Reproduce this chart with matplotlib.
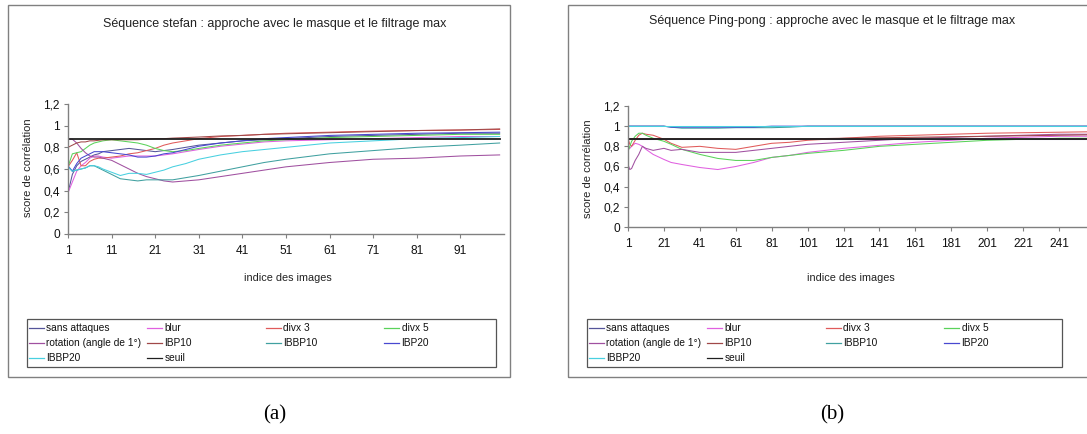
import matplotlib
matplotlib.use("Agg")
import matplotlib.pyplot as plt
from matplotlib.patches import Rectangle
from matplotlib.lines import Line2D

plt.rcParams['font.family'] = ['Liberation Sans', 'DejaVu Sans']

W, H = 1087, 434

names = ["sans attaques", "blur", "divx 3", "divx 5", "rotation (angle de 1°)",
         "IBP10", "IBBP10", "IBP20", "IBBP20", "seuil"]
colors = ["#55559a", "#e060e0", "#e05a5a", "#5ad25a", "#a050a0",
          "#a04848", "#40a0a0", "#4848d0", "#48d0e0", "#202020"]

# Séquence stefan
stefan_x = [1, 2, 3, 4, 5, 6, 7, 8, 9, 11, 13, 15, 17, 19, 21, 23, 25, 28, 31, 36,
            41, 46, 51, 61, 71, 81, 91, 100]
stefan_sans = [0.38, 0.55, 0.63, 0.67, 0.69, 0.71, 0.73, 0.74, 0.76, 0.77, 0.78, 0.79, 0.78, 0.77,
               0.76, 0.77, 0.78, 0.80, 0.82, 0.84, 0.86, 0.87, 0.88, 0.90, 0.91, 0.92, 0.93, 0.93]
stefan_blur = [0.38, 0.48, 0.58, 0.63, 0.66, 0.70, 0.72, 0.72, 0.71, 0.70, 0.71, 0.72, 0.72, 0.72,
               0.72, 0.73, 0.74, 0.76, 0.78, 0.81, 0.83, 0.85, 0.86, 0.87, 0.88, 0.89, 0.90, 0.90]
stefan_divx3 = [0.62, 0.68, 0.75, 0.63, 0.63, 0.67, 0.69, 0.70, 0.70, 0.71, 0.72, 0.74, 0.75, 0.77,
                0.79, 0.82, 0.84, 0.86, 0.88, 0.90, 0.91, 0.92, 0.93, 0.94, 0.95, 0.955, 0.96, 0.965]
stefan_divx5 = [0.62, 0.74, 0.75, 0.76, 0.79, 0.82, 0.84, 0.85, 0.86, 0.87, 0.86, 0.85, 0.84, 0.82,
                0.79, 0.77, 0.76, 0.77, 0.79, 0.82, 0.84, 0.86, 0.87, 0.89, 0.90, 0.91, 0.92, 0.92]
stefan_rot = [0.875, 0.875, 0.84, 0.79, 0.75, 0.72, 0.71, 0.71, 0.70, 0.68, 0.64, 0.60, 0.56, 0.53,
              0.51, 0.49, 0.48, 0.49, 0.50, 0.53, 0.56, 0.59, 0.62, 0.66, 0.69, 0.70, 0.72, 0.73]
stefan_ibp10 = [0.80, 0.82, 0.84, 0.85, 0.85, 0.86, 0.86, 0.865, 0.87, 0.87, 0.87, 0.87, 0.87, 0.875,
                0.88, 0.88, 0.885, 0.89, 0.895, 0.905, 0.91, 0.92, 0.925, 0.935, 0.945, 0.955, 0.96, 0.97]
stefan_ibbp10 = [0.62, 0.58, 0.59, 0.60, 0.61, 0.63, 0.63, 0.61, 0.59, 0.55, 0.51, 0.50, 0.49, 0.50,
                 0.50, 0.50, 0.50, 0.52, 0.54, 0.58, 0.62, 0.66, 0.69, 0.74, 0.77, 0.80, 0.82, 0.84]
stefan_ibp20 = [0.63, 0.58, 0.65, 0.70, 0.72, 0.74, 0.76, 0.76, 0.76, 0.75, 0.74, 0.73, 0.71, 0.71,
                0.72, 0.74, 0.75, 0.78, 0.81, 0.84, 0.86, 0.88, 0.89, 0.91, 0.92, 0.93, 0.935, 0.94]
stefan_ibbp20 = [0.62, 0.58, 0.59, 0.60, 0.61, 0.63, 0.63, 0.62, 0.60, 0.57, 0.54, 0.56, 0.56, 0.55,
                 0.57, 0.59, 0.62, 0.65, 0.69, 0.73, 0.76, 0.78, 0.80, 0.84, 0.86, 0.88, 0.89, 0.90]
stefan_seuil = [0.875] * len(stefan_x)

# Séquence Ping-pong
pp_x = [1, 2, 3, 5, 7, 9, 11, 15, 21, 25, 31, 41, 51, 61, 71, 81, 91, 101, 121, 141,
        161, 181, 201, 221, 241, 261, 281, 300]
pp_sans = [0.875] * len(pp_x)
pp_blur = [0.77, 0.78, 0.80, 0.83, 0.82, 0.80, 0.77, 0.72, 0.67, 0.64, 0.62, 0.59, 0.57, 0.60,
           0.64, 0.69, 0.71, 0.74, 0.78, 0.81, 0.84, 0.86, 0.88, 0.89, 0.90, 0.90, 0.91, 0.91]
pp_divx3 = [0.88, 0.82, 0.80, 0.86, 0.91, 0.93, 0.92, 0.91, 0.87, 0.83, 0.79, 0.80, 0.78, 0.77,
            0.80, 0.83, 0.84, 0.86, 0.88, 0.90, 0.91, 0.92, 0.93, 0.935, 0.94, 0.945, 0.95, 0.95]
pp_divx5 = [0.75, 0.80, 0.85, 0.90, 0.93, 0.93, 0.91, 0.88, 0.85, 0.82, 0.77, 0.72, 0.68, 0.66,
            0.66, 0.69, 0.71, 0.73, 0.76, 0.80, 0.82, 0.84, 0.86, 0.87, 0.88, 0.88, 0.89, 0.89]
pp_rot = [0.62, 0.57, 0.58, 0.66, 0.72, 0.80, 0.78, 0.76, 0.78, 0.76, 0.77, 0.74, 0.74, 0.74,
          0.76, 0.78, 0.80, 0.82, 0.84, 0.86, 0.88, 0.89, 0.90, 0.91, 0.92, 0.92, 0.92, 0.93]
pp_ibp10 = [0.875, 0.875, 0.875, 0.875, 0.875, 0.875, 0.875, 0.875, 0.875, 0.875, 0.875, 0.875,
            0.875, 0.875, 0.875, 0.875, 0.875, 0.875, 0.88, 0.885, 0.89, 0.895, 0.90, 0.905,
            0.91, 0.915, 0.92, 0.92]
pp_ibbp10 = [1.0, 1.0, 1.0, 1.0, 1.0, 1.0, 1.0, 1.0, 1.0, 0.99, 0.98, 0.98, 0.98, 0.985,
             0.985, 0.985, 0.99, 1.0, 1.0, 1.0, 1.0, 1.0, 1.0, 1.0, 1.0, 1.0, 1.0, 1.0]
pp_ibp20 = [1.0, 1.0, 1.0, 1.0, 1.0, 1.0, 1.0, 1.0, 1.0, 0.99, 0.99, 0.99, 0.99, 0.99,
            0.99, 1.0, 1.0, 1.0, 1.0, 1.0, 1.0, 1.0, 1.0, 1.0, 1.0, 1.0, 1.0, 1.0]
pp_ibbp20 = [1.0] * len(pp_x)
pp_seuil = [0.875] * len(pp_x)

stefan_series = [stefan_sans, stefan_blur, stefan_divx3, stefan_divx5, stefan_rot,
                 stefan_ibp10, stefan_ibbp10, stefan_ibp20, stefan_ibbp20, stefan_seuil]
pp_series = [pp_sans, pp_blur, pp_divx3, pp_divx5, pp_rot,
             pp_ibp10, pp_ibbp10, pp_ibp20, pp_ibbp20, pp_seuil]

stefan_ticks = list(range(1, 100, 10))
pp_ticks = list(range(1, 242, 20))
y_ticks = [0, 0.2, 0.4, 0.6, 0.8, 1, 1.2]
y_labels = ["0", "0,2", "0,4", "0,6", "0,8", "1", "1,2"]


def fx(px):
    return px / W


def fy(py):
    return 1 - py / H


fig = plt.figure(figsize=(W / 100, H / 100), dpi=100)


def legend_box(rect, handles):
    # Excel-style legend: 4 equal columns, filled row by row
    lx0, ly0, lx1, ly1 = rect
    fig.patches.append(Rectangle((fx(lx0), fy(ly1)), fx(lx1 - lx0), (ly1 - ly0) / H,
                                 transform=fig.transFigure, fill=False,
                                 edgecolor="#555555", lw=0.9))
    col_w = 118.5
    for i, h in enumerate(handles):
        row, col = divmod(i, 4)
        x0 = lx0 + 1.5 + col * col_w
        y0 = ly0 + 9 + row * 15
        fig.lines.append(Line2D([fx(x0), fx(x0 + 15)], [fy(y0), fy(y0)],
                                transform=fig.transFigure, color=h.get_color(), lw=0.9))
        fig.text(fx(x0 + 17.5), fy(y0), h.get_label(), ha="left", va="center",
                 fontsize=7.3, color="#111111")


def panel(box, ax_rect, xs, series, xlim, xticks, title, title_xy, xlabel_xy, ylabel_xy,
          leg_rect, caption, caption_x):
    # outer gray frame
    bx0, by0, bx1, by1 = box
    fig.patches.append(Rectangle((fx(bx0), fy(by1)), fx(bx1 - bx0), (by1 - by0) / H,
                                 transform=fig.transFigure, fill=False,
                                 edgecolor="#808080", lw=1.0))
    l, t, r, b = ax_rect
    ax = fig.add_axes([fx(l), fy(b), fx(r - l), (b - t) / H])
    handles = []
    for i, ys in enumerate(series):
        lw = 1.3 if names[i] == "seuil" else 0.75
        h, = ax.plot(xs, ys, color=colors[i], lw=lw, label=names[i])
        handles.append(h)
    ax.set_xlim(*xlim)
    ax.set_ylim(0, 1.2)
    ax.set_xticks(xticks)
    ax.set_xticklabels([str(v) for v in xticks])
    ax.set_yticks(y_ticks)
    ax.set_yticklabels(y_labels)
    for s in ["top", "right"]:
        ax.spines[s].set_visible(False)
    for s in ["left", "bottom"]:
        ax.spines[s].set_color("#808080")
        ax.spines[s].set_linewidth(1.0)
    ax.tick_params(axis="both", direction="out", length=3, width=0.8, color="#808080",
                   labelsize=8.6, labelcolor="#111111")
    ax.tick_params(axis="x", pad=5)
    ax.tick_params(axis="y", pad=3)
    fig.text(fx(title_xy[0]), fy(title_xy[1]), title, ha="center", va="center",
             fontsize=9.0, color="#222222")
    fig.text(fx(xlabel_xy[0]), fy(xlabel_xy[1]), "indice des images", ha="center",
             va="center", fontsize=7.8, color="#222222")
    fig.text(fx(ylabel_xy[0]), fy(ylabel_xy[1]), "score de corrélation", ha="center",
             va="center", rotation=90, fontsize=8.0, color="#222222")
    legend_box(leg_rect, handles)
    fig.text(fx(caption_x), fy(415), caption, ha="center", va="center",
             fontsize=15, family="Liberation Serif")
    return ax


panel((8, 5, 510, 377), (68, 104, 504, 234), stefan_x, stefan_series, (1, 101),
      stefan_ticks, "Séquence stefan : approche avec le masque et le filtrage max",
      (275, 24), (288, 278), (28, 168), (27, 319, 496, 367), "(a)", 275)
panel((568, 5, 1200, 377), (628, 106, 1165, 227), pp_x, pp_series, (1, 300),
      pp_ticks, "Séquence Ping-pong : approche avec le masque et le filtrage max",
      (832, 21), (851, 278), (588, 169), (587, 319, 1062, 367), "(b)", 832)

fig.savefig("out.png", dpi=100)
